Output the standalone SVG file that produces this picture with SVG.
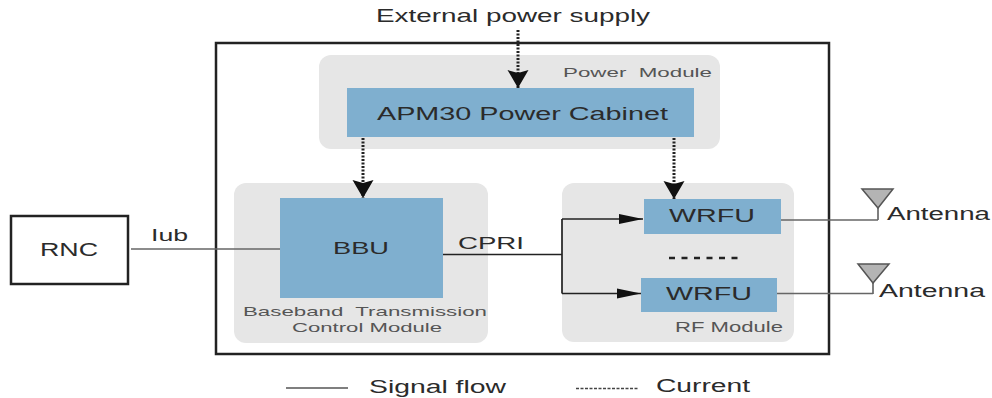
<svg xmlns="http://www.w3.org/2000/svg" width="992" height="398" viewBox="0 0 992 398">
<style>
text{font-family:"Liberation Sans",Arial,sans-serif;fill:#2b2b2b}
.mod{fill:#e6e6e6}
.blue{fill:#7fafcf}
.sig{fill:none;stroke:#666;stroke-width:1.3}
.cpri{fill:none;stroke:#222;stroke-width:1.7}
.cur{fill:none;stroke:#222;stroke-width:3;stroke-dasharray:2 1.5}
.ant{fill:#b4b4b4;stroke:#555;stroke-width:1.5}
.small{fill:#555}
</style>
<defs>
<marker id="ad" markerUnits="userSpaceOnUse" markerWidth="19" markerHeight="22" refX="18" refY="11" orient="auto"><path d="M0 0.500L18 11L0 21.500L3 11Z" fill="#111"/></marker>
<marker id="as" markerUnits="userSpaceOnUse" markerWidth="24" markerHeight="12" refX="24" refY="6" orient="auto"><path d="M0 1L24 6L0 11Z" fill="#111"/></marker>
</defs>
<g id="outer"><rect x="216" y="43" width="613" height="311" fill="#fff" stroke="#222" stroke-width="2.500"/></g>
<g id="power-module"><rect class="mod" x="319" y="55" width="401" height="94" rx="12"/><text class="small" x="563" y="77" font-size="13.500" textLength="149" lengthAdjust="spacingAndGlyphs" xml:space="preserve">Power  Module</text></g>
<g id="apm30"><rect class="blue" x="347" y="88" width="347" height="49"/><text x="377" y="120" font-size="18" textLength="291" lengthAdjust="spacingAndGlyphs">APM30 Power Cabinet</text></g>
<g id="baseband-module"><rect class="mod" x="234" y="183" width="254" height="160" rx="12"/><text class="small" x="243" y="316" font-size="13.500" textLength="244" lengthAdjust="spacingAndGlyphs" xml:space="preserve">Baseband  Transmission</text><text class="small" x="292" y="332" font-size="13.500" textLength="150" lengthAdjust="spacingAndGlyphs">Control Module</text></g>
<g id="bbu"><rect class="blue" x="280" y="198" width="163" height="100"/><text x="333" y="254" font-size="17" textLength="56" lengthAdjust="spacingAndGlyphs">BBU</text></g>
<g id="rf-module"><rect class="mod" x="562" y="183" width="232" height="159" rx="12"/><text class="small" x="675" y="332" font-size="14" textLength="108" lengthAdjust="spacingAndGlyphs">RF Module</text></g>
<g id="wrfu1"><rect class="blue" x="644" y="199" width="137" height="35"/><text x="669" y="222" font-size="18" textLength="86" lengthAdjust="spacingAndGlyphs">WRFU</text></g>
<g id="wrfu2"><rect class="blue" x="641" y="278" width="136" height="34"/><text x="666" y="300" font-size="18" textLength="86" lengthAdjust="spacingAndGlyphs">WRFU</text></g>
<g id="rnc"><rect x="11" y="216" width="117" height="68" fill="#fff" stroke="#222" stroke-width="2.500"/><text x="40" y="256" font-size="18" textLength="58" lengthAdjust="spacingAndGlyphs">RNC</text></g>
<g id="antenna1"><path class="ant" d="M862 189H893L878 208Z"/><path class="ant" d="M878 208V220"/><text x="887" y="220" font-size="17.500" textLength="103" lengthAdjust="spacingAndGlyphs">Antenna</text></g>
<g id="antenna2"><path class="ant" d="M858 264H889L873 283Z"/><path class="ant" d="M873 283V294"/><text x="879" y="297" font-size="17.500" textLength="106" lengthAdjust="spacingAndGlyphs">Antenna</text></g>
<g id="connectors">
<path class="sig" d="M131 249H280"/>
<path class="cpri" d="M443 254.500H562"/>
<path class="cpri" d="M562 219V293.500"/>
<path class="cpri" d="M562 219H643" marker-end="url(#as)"/>
<path class="cpri" d="M562 293.500H641" marker-end="url(#as)"/>
<path class="sig" d="M781 220H878"/>
<path class="sig" d="M777 293.500H873"/>
<path class="cur" d="M518 30V88" marker-end="url(#ad)"/>
<path class="cur" d="M363 138V198" marker-end="url(#ad)"/>
<path class="cur" d="M674 138V199" marker-end="url(#ad)"/>
<path d="M669 258H738" fill="none" stroke="#222" stroke-width="2.500" stroke-dasharray="6 6.500"/>
</g>
<g id="legend">
<path d="M286 388H348" fill="none" stroke="#555" stroke-width="1.300"/>
<text x="369" y="393" font-size="18" textLength="137" lengthAdjust="spacingAndGlyphs">Signal flow</text>
<path d="M576 388.500H638" fill="none" stroke="#444" stroke-width="1.300" stroke-dasharray="3 1.500"/>
<text x="656" y="392" font-size="18" textLength="94" lengthAdjust="spacingAndGlyphs">Current</text>
</g>
<g id="labels">
<text x="376" y="22" font-size="18.500" textLength="274" lengthAdjust="spacingAndGlyphs">External power supply</text>
<text x="151" y="241" font-size="16" textLength="37" lengthAdjust="spacingAndGlyphs">Iub</text>
<text x="458" y="249" font-size="17" textLength="66" lengthAdjust="spacingAndGlyphs">CPRI</text>
</g>
</svg>
